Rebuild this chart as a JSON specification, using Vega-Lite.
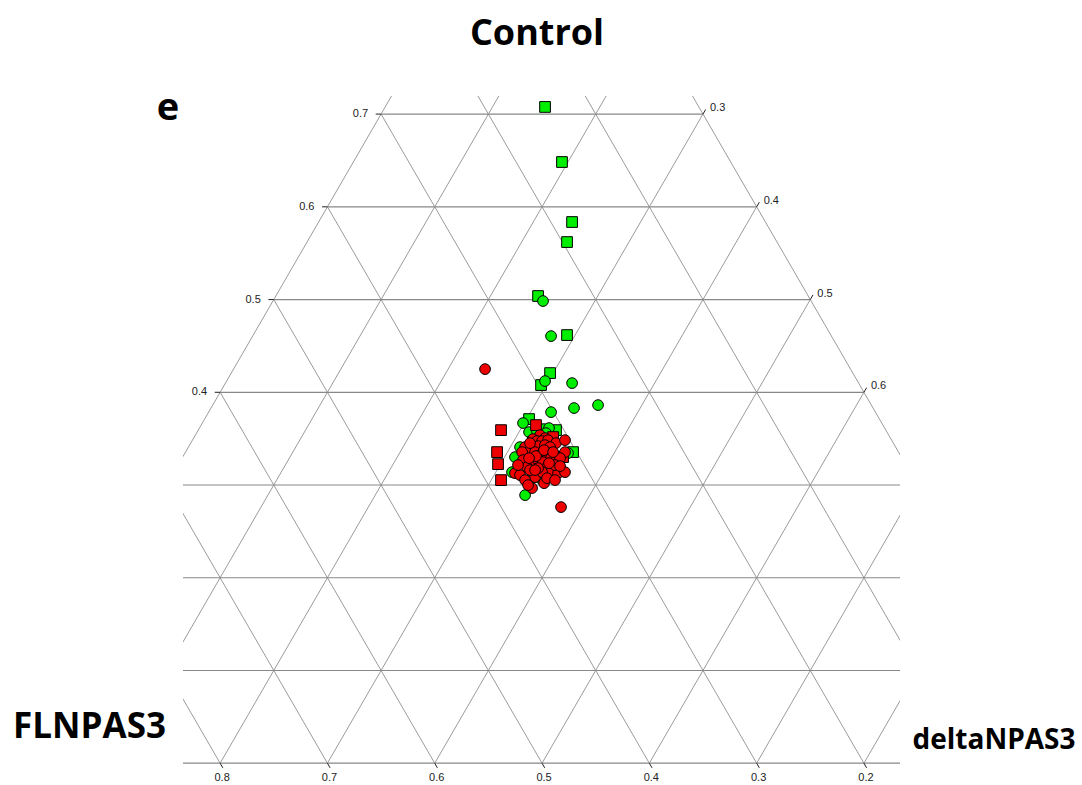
{
  "$schema": "https://vega.github.io/schema/vega-lite/v6.json",
  "width": 717,
  "height": 670,
  "autosize": {"type": "none"},
  "padding": {"left": 183, "top": 96, "right": 182, "bottom": 19},
  "background": "white",
  "config": {"view": {"stroke": null}},
  "datasets": {
    "hgrid": [
      {"x": 0.0, "y": 0.0, "x2": 1.0, "y2": 0.0},
      {"x": 0.05, "y": 0.1, "x2": 0.95, "y2": 0.1},
      {"x": 0.1, "y": 0.2, "x2": 0.9, "y2": 0.2},
      {"x": 0.15, "y": 0.3, "x2": 0.85, "y2": 0.3},
      {"x": 0.2, "y": 0.4, "x2": 0.8, "y2": 0.4},
      {"x": 0.25, "y": 0.5, "x2": 0.75, "y2": 0.5},
      {"x": 0.3, "y": 0.6, "x2": 0.7, "y2": 0.6},
      {"x": 0.35, "y": 0.7, "x2": 0.65, "y2": 0.7}
    ],
    "dgrid": [
      {"x": 0.0, "y": 0, "x2": 0.5, "y2": 1.0},
      {"x": 0.1, "y": 0, "x2": 0.55, "y2": 0.9},
      {"x": 0.2, "y": 0, "x2": 0.6, "y2": 0.8},
      {"x": 0.3, "y": 0, "x2": 0.65, "y2": 0.7},
      {"x": 0.4, "y": 0, "x2": 0.7, "y2": 0.6},
      {"x": 0.5, "y": 0, "x2": 0.75, "y2": 0.5},
      {"x": 0.6, "y": 0, "x2": 0.8, "y2": 0.4},
      {"x": 0.7, "y": 0, "x2": 0.85, "y2": 0.3},
      {"x": 0.8, "y": 0, "x2": 0.9, "y2": 0.2},
      {"x": 0.9, "y": 0, "x2": 0.95, "y2": 0.1},
      {"x": 1.0, "y": 0, "x2": 0.5, "y2": 1.0},
      {"x": 0.9, "y": 0, "x2": 0.45, "y2": 0.9},
      {"x": 0.8, "y": 0, "x2": 0.4, "y2": 0.8},
      {"x": 0.7, "y": 0, "x2": 0.35, "y2": 0.7},
      {"x": 0.6, "y": 0, "x2": 0.3, "y2": 0.6},
      {"x": 0.5, "y": 0, "x2": 0.25, "y2": 0.5},
      {"x": 0.4, "y": 0, "x2": 0.2, "y2": 0.4},
      {"x": 0.3, "y": 0, "x2": 0.15, "y2": 0.3},
      {"x": 0.2, "y": 0, "x2": 0.1, "y2": 0.2},
      {"x": 0.1, "y": 0, "x2": 0.05, "y2": 0.1}
    ],
    "ticks": [
      {"x": 0.345, "y": 0.7, "x2": 0.35, "y2": 0.7},
      {"x": 0.295, "y": 0.6, "x2": 0.3, "y2": 0.6},
      {"x": 0.245, "y": 0.5, "x2": 0.25, "y2": 0.5},
      {"x": 0.195, "y": 0.4, "x2": 0.2, "y2": 0.4},
      {"x": 0.65, "y": 0.7, "x2": 0.6525, "y2": 0.705},
      {"x": 0.7, "y": 0.6, "x2": 0.7025, "y2": 0.605},
      {"x": 0.75, "y": 0.5, "x2": 0.7525, "y2": 0.505},
      {"x": 0.8, "y": 0.4, "x2": 0.8025, "y2": 0.405},
      {"x": 0.2, "y": 0, "x2": 0.2025, "y2": -0.005},
      {"x": 0.3, "y": 0, "x2": 0.3025, "y2": -0.005},
      {"x": 0.4, "y": 0, "x2": 0.4025, "y2": -0.005},
      {"x": 0.5, "y": 0, "x2": 0.5025, "y2": -0.005},
      {"x": 0.6, "y": 0, "x2": 0.6025, "y2": -0.005},
      {"x": 0.7, "y": 0, "x2": 0.7025, "y2": -0.005},
      {"x": 0.8, "y": 0, "x2": 0.8025, "y2": -0.005}
    ],
    "leftLabels": [
      {"x": 0.35, "y": 0.7, "t": "0.7"},
      {"x": 0.3, "y": 0.6, "t": "0.6"},
      {"x": 0.25, "y": 0.5, "t": "0.5"},
      {"x": 0.2, "y": 0.4, "t": "0.4"}
    ],
    "rightLabels": [
      {"x": 0.65, "y": 0.7, "t": "0.3"},
      {"x": 0.7, "y": 0.6, "t": "0.4"},
      {"x": 0.75, "y": 0.5, "t": "0.5"},
      {"x": 0.8, "y": 0.4, "t": "0.6"}
    ],
    "bottomLabels": [
      {"x": 0.2, "y": 0, "t": "0.8"},
      {"x": 0.3, "y": 0, "t": "0.7"},
      {"x": 0.4, "y": 0, "t": "0.6"},
      {"x": 0.5, "y": 0, "t": "0.5"},
      {"x": 0.6, "y": 0, "t": "0.4"},
      {"x": 0.7, "y": 0, "t": "0.3"},
      {"x": 0.8, "y": 0, "t": "0.2"}
    ],
    "points": [
      {"x": 0.5028, "y": 0.7077, "grp": "green", "shape": "square"},
      {"x": 0.5186, "y": 0.6483, "grp": "green", "shape": "square"},
      {"x": 0.5280, "y": 0.5836, "grp": "green", "shape": "square"},
      {"x": 0.5233, "y": 0.5620, "grp": "green", "shape": "square"},
      {"x": 0.4963, "y": 0.5038, "grp": "green", "shape": "square"},
      {"x": 0.5233, "y": 0.4617, "grp": "green", "shape": "square"},
      {"x": 0.5075, "y": 0.4207, "grp": "green", "shape": "square"},
      {"x": 0.4991, "y": 0.4078, "grp": "green", "shape": "square"},
      {"x": 0.4879, "y": 0.3711, "grp": "green", "shape": "square"},
      {"x": 0.5130, "y": 0.3592, "grp": "green", "shape": "square"},
      {"x": 0.5289, "y": 0.3355, "grp": "green", "shape": "square"},
      {"x": 0.5009, "y": 0.4984, "grp": "green", "shape": "circle"},
      {"x": 0.5084, "y": 0.4606, "grp": "green", "shape": "circle"},
      {"x": 0.5028, "y": 0.4121, "grp": "green", "shape": "circle"},
      {"x": 0.5280, "y": 0.4099, "grp": "green", "shape": "circle"},
      {"x": 0.5522, "y": 0.3862, "grp": "green", "shape": "circle"},
      {"x": 0.5298, "y": 0.3830, "grp": "green", "shape": "circle"},
      {"x": 0.5084, "y": 0.3786, "grp": "green", "shape": "circle"},
      {"x": 0.4823, "y": 0.3668, "grp": "green", "shape": "circle"},
      {"x": 0.4963, "y": 0.3625, "grp": "green", "shape": "circle"},
      {"x": 0.5019, "y": 0.3603, "grp": "green", "shape": "circle"},
      {"x": 0.5065, "y": 0.3614, "grp": "green", "shape": "circle"},
      {"x": 0.4879, "y": 0.3571, "grp": "green", "shape": "circle"},
      {"x": 0.4953, "y": 0.3581, "grp": "green", "shape": "circle"},
      {"x": 0.5037, "y": 0.3560, "grp": "green", "shape": "circle"},
      {"x": 0.4795, "y": 0.3409, "grp": "green", "shape": "circle"},
      {"x": 0.4748, "y": 0.3301, "grp": "green", "shape": "circle"},
      {"x": 0.4720, "y": 0.3139, "grp": "green", "shape": "circle"},
      {"x": 0.4842, "y": 0.2891, "grp": "green", "shape": "circle"},
      {"x": 0.4888, "y": 0.3053, "grp": "green", "shape": "circle"},
      {"x": 0.5084, "y": 0.3376, "grp": "green", "shape": "circle"},
      {"x": 0.5130, "y": 0.3161, "grp": "green", "shape": "circle"},
      {"x": 0.5149, "y": 0.3236, "grp": "green", "shape": "circle"},
      {"x": 0.5242, "y": 0.3344, "grp": "green", "shape": "circle"},
      {"x": 0.4814, "y": 0.3247, "grp": "green", "shape": "circle"},
      {"x": 0.4981, "y": 0.3074, "grp": "green", "shape": "circle"},
      {"x": 0.4618, "y": 0.3592, "grp": "red", "shape": "square"},
      {"x": 0.4581, "y": 0.3355, "grp": "red", "shape": "square"},
      {"x": 0.4590, "y": 0.3225, "grp": "red", "shape": "square"},
      {"x": 0.4618, "y": 0.3053, "grp": "red", "shape": "square"},
      {"x": 0.4944, "y": 0.3646, "grp": "red", "shape": "square"},
      {"x": 0.5103, "y": 0.3517, "grp": "red", "shape": "square"},
      {"x": 0.5196, "y": 0.3301, "grp": "red", "shape": "square"},
      {"x": 0.4916, "y": 0.3463, "grp": "red", "shape": "square"},
      {"x": 0.5056, "y": 0.3323, "grp": "red", "shape": "square"},
      {"x": 0.4469, "y": 0.4250, "grp": "red", "shape": "circle"},
      {"x": 0.5177, "y": 0.2762, "grp": "red", "shape": "circle"},
      {"x": 0.4981, "y": 0.3538, "grp": "red", "shape": "circle"},
      {"x": 0.5028, "y": 0.3506, "grp": "red", "shape": "circle"},
      {"x": 0.4916, "y": 0.3495, "grp": "red", "shape": "circle"},
      {"x": 0.4953, "y": 0.3474, "grp": "red", "shape": "circle"},
      {"x": 0.5000, "y": 0.3474, "grp": "red", "shape": "circle"},
      {"x": 0.5056, "y": 0.3484, "grp": "red", "shape": "circle"},
      {"x": 0.5130, "y": 0.3452, "grp": "red", "shape": "circle"},
      {"x": 0.5214, "y": 0.3484, "grp": "red", "shape": "circle"},
      {"x": 0.4963, "y": 0.3420, "grp": "red", "shape": "circle"},
      {"x": 0.5028, "y": 0.3430, "grp": "red", "shape": "circle"},
      {"x": 0.5075, "y": 0.3409, "grp": "red", "shape": "circle"},
      {"x": 0.4842, "y": 0.3409, "grp": "red", "shape": "circle"},
      {"x": 0.4888, "y": 0.3376, "grp": "red", "shape": "circle"},
      {"x": 0.4814, "y": 0.3355, "grp": "red", "shape": "circle"},
      {"x": 0.5037, "y": 0.3355, "grp": "red", "shape": "circle"},
      {"x": 0.5214, "y": 0.3355, "grp": "red", "shape": "circle"},
      {"x": 0.4935, "y": 0.3355, "grp": "red", "shape": "circle"},
      {"x": 0.4981, "y": 0.3323, "grp": "red", "shape": "circle"},
      {"x": 0.5028, "y": 0.3290, "grp": "red", "shape": "circle"},
      {"x": 0.5084, "y": 0.3290, "grp": "red", "shape": "circle"},
      {"x": 0.5168, "y": 0.3290, "grp": "red", "shape": "circle"},
      {"x": 0.4823, "y": 0.3269, "grp": "red", "shape": "circle"},
      {"x": 0.4916, "y": 0.3236, "grp": "red", "shape": "circle"},
      {"x": 0.4963, "y": 0.3269, "grp": "red", "shape": "circle"},
      {"x": 0.5009, "y": 0.3247, "grp": "red", "shape": "circle"},
      {"x": 0.4860, "y": 0.3193, "grp": "red", "shape": "circle"},
      {"x": 0.5037, "y": 0.3182, "grp": "red", "shape": "circle"},
      {"x": 0.5075, "y": 0.3128, "grp": "red", "shape": "circle"},
      {"x": 0.5149, "y": 0.3128, "grp": "red", "shape": "circle"},
      {"x": 0.5214, "y": 0.3139, "grp": "red", "shape": "circle"},
      {"x": 0.4748, "y": 0.3128, "grp": "red", "shape": "circle"},
      {"x": 0.4795, "y": 0.3107, "grp": "red", "shape": "circle"},
      {"x": 0.4935, "y": 0.3085, "grp": "red", "shape": "circle"},
      {"x": 0.5000, "y": 0.3139, "grp": "red", "shape": "circle"},
      {"x": 0.4888, "y": 0.3161, "grp": "red", "shape": "circle"},
      {"x": 0.4963, "y": 0.3182, "grp": "red", "shape": "circle"},
      {"x": 0.4842, "y": 0.3053, "grp": "red", "shape": "circle"},
      {"x": 0.5019, "y": 0.3020, "grp": "red", "shape": "circle"},
      {"x": 0.5047, "y": 0.3074, "grp": "red", "shape": "circle"},
      {"x": 0.4907, "y": 0.2967, "grp": "red", "shape": "circle"},
      {"x": 0.5121, "y": 0.3053, "grp": "red", "shape": "circle"},
      {"x": 0.4870, "y": 0.2999, "grp": "red", "shape": "circle"},
      {"x": 0.5121, "y": 0.3215, "grp": "red", "shape": "circle"},
      {"x": 0.5168, "y": 0.3204, "grp": "red", "shape": "circle"},
      {"x": 0.4944, "y": 0.3312, "grp": "red", "shape": "circle"},
      {"x": 0.4879, "y": 0.3290, "grp": "red", "shape": "circle"},
      {"x": 0.5065, "y": 0.3236, "grp": "red", "shape": "circle"},
      {"x": 0.4935, "y": 0.3161, "grp": "red", "shape": "circle"},
      {"x": 0.4776, "y": 0.3215, "grp": "red", "shape": "circle"},
      {"x": 0.5019, "y": 0.3376, "grp": "red", "shape": "circle"},
      {"x": 0.5103, "y": 0.3355, "grp": "red", "shape": "circle"},
      {"x": 0.4888, "y": 0.3452, "grp": "red", "shape": "circle"}
    ]
  },
  "encoding": {
    "x": {"field": "x", "type": "quantitative", "axis": null, "scale": {"domain": [0.1654, 0.8336], "nice": false, "zero": false}},
    "y": {"field": "y", "type": "quantitative", "axis": null, "scale": {"domain": [-0.003, 0.7195], "nice": false, "zero": false}}
  },
  "layer": [
    {
      "data": {"name": "dgrid"},
      "mark": {"type": "rule", "clip": true, "stroke": "#8f8f8f", "strokeWidth": 0.9},
      "encoding": {"x2": {"field": "x2"}, "y2": {"field": "y2"}}
    },
    {
      "data": {"name": "hgrid"},
      "mark": {"type": "rule", "clip": true, "stroke": "#888888", "strokeWidth": 1.2},
      "encoding": {"x2": {"field": "x2"}, "y2": {"field": "y2"}}
    },
    {
      "data": {"name": "ticks"},
      "mark": {"type": "rule", "stroke": "#222222", "strokeWidth": 1},
      "encoding": {"x2": {"field": "x2"}, "y2": {"field": "y2"}}
    },
    {
      "data": {"name": "leftLabels"},
      "mark": {"type": "text", "align": "right", "baseline": "middle", "dx": -13, "font": "Liberation Sans", "fontSize": 11, "fill": "#222222"},
      "encoding": {"text": {"field": "t"}}
    },
    {
      "data": {"name": "rightLabels"},
      "mark": {"type": "text", "align": "left", "baseline": "middle", "dx": 7, "dy": -6, "font": "Liberation Sans", "fontSize": 11, "fill": "#222222"},
      "encoding": {"text": {"field": "t"}}
    },
    {
      "data": {"name": "bottomLabels"},
      "mark": {"type": "text", "align": "center", "baseline": "middle", "dx": 2, "dy": 15, "font": "Liberation Sans", "fontSize": 11, "fill": "#222222"},
      "encoding": {"text": {"field": "t"}}
    },
    {
      "data": {"name": "points"},
      "mark": {"type": "point", "filled": true, "stroke": "#000000", "strokeWidth": 1, "size": 115, "opacity": 1},
      "encoding": {
        "shape": {"field": "shape", "type": "nominal", "scale": {"domain": ["circle", "square"], "range": ["circle", "square"]}, "legend": null},
        "fill": {"field": "grp", "type": "nominal", "scale": {"domain": ["green", "red"], "range": ["#00ee00", "#ee0000"]}, "legend": null}
      }
    },
    {
      "data": {"values": [{"x": 0.4953, "y": 0.7745, "t": "Control"}]},
      "mark": {"type": "text", "align": "center", "baseline": "alphabetic", "font": "Open Sans", "fontWeight": "bold", "fontSize": 36, "fill": "#000000"},
      "encoding": {"text": {"field": "t"}}
    },
    {
      "data": {"values": [{"x": 0.1514, "y": 0.6936, "t": "e"}]},
      "mark": {"type": "text", "align": "center", "baseline": "alphabetic", "font": "Open Sans", "fontWeight": "bold", "fontSize": 38, "fill": "#000000"},
      "encoding": {"text": {"field": "t"}}
    },
    {
      "data": {"values": [{"x": 0.0783, "y": 0.0270, "t": "FLNPAS3"}]},
      "mark": {"type": "text", "align": "center", "baseline": "alphabetic", "font": "Open Sans", "fontWeight": "bold", "fontSize": 35, "fill": "#000000"},
      "encoding": {"text": {"field": "t"}}
    },
    {
      "data": {"values": [{"x": 0.9212, "y": 0.0151, "t": "deltaNPAS3"}]},
      "mark": {"type": "text", "align": "center", "baseline": "alphabetic", "font": "Open Sans", "fontWeight": "bold", "fontSize": 28, "fill": "#000000"},
      "encoding": {"text": {"field": "t"}}
    }
  ]
}
